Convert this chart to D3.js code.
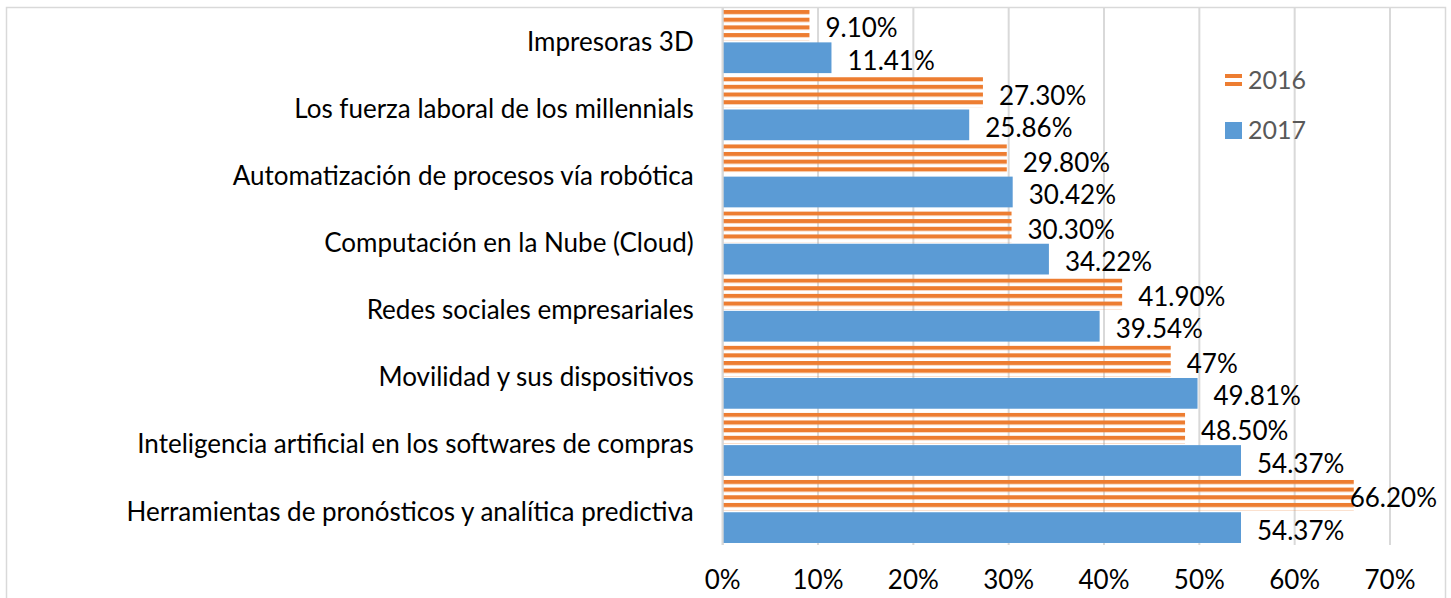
<!DOCTYPE html>
<html>
<head>
<meta charset="utf-8">
<script src="https://cdn.jsdelivr.net/npm/d3@7"></script>
<style>
  body { margin: 0; background: #fff; }
  svg text { font-family: Lato, "Open Sans", sans-serif; }
</style>
</head>
<body>
<svg id="chart" width="1451" height="598"></svg>
<script>
// categories, top to bottom as shown
const categories = [
  "Impresoras 3D",
  "Los fuerza laboral de los millennials",
  "Automatización de procesos vía robótica",
  "Computación en la Nube (Cloud)",
  "Redes sociales empresariales",
  "Movilidad y sus dispositivos",
  "Inteligencia artificial en los softwares de compras",
  "Herramientas de pronósticos y analítica predictiva"
]
const values2016 = [9.10, 27.30, 29.80, 30.30, 41.90, 47, 48.50, 66.20]
const values2017 = [11.41, 25.86, 30.42, 34.22, 39.54, 49.81, 54.37, 54.37]
const labels2016 = ["9.10%", "27.30%", "29.80%", "30.30%", "41.90%", "47%", "48.50%", "66.20%"]
const labels2017 = ["11.41%", "25.86%", "30.42%", "34.22%", "39.54%", "49.81%", "54.37%", "54.37%"]
const xTicks = [0, 10, 20, 30, 40, 50, 60, 70]
const seriesNames = ["2016", "2017"]

const orange = "#ED7D31"
const blue = "#5B9BD5"
const grid = "#d9d9d9"
const fs = 26

let svg = d3.select("#chart")

// stripe pattern fitted to each bar box
let defs = svg.append("defs")
let pat = defs.append("pattern")
  .attr("id", "stripes")
  .attr("patternUnits", "objectBoundingBox")
  .attr("patternContentUnits", "objectBoundingBox")
  .attr("width", 1).attr("height", 0.25)
pat.append("rect").attr("x", 0).attr("y", 0).attr("width", 1).attr("height", 0.135).attr("fill", orange)

// chart border
svg.append("rect")
  .attr("x", 6.5).attr("y", 7.5)
  .attr("width", 1439).attr("height", 620)
  .attr("fill", "none").attr("stroke", grid).attr("stroke-width", 1.5)

let plotLeft = 722.7, plotRight = 1390, plotTop = 8, plotBottom = 545

let xScale = d3.scaleLinear().domain([0, 70]).range([plotLeft, plotRight])
let yScale = d3.scaleBand().domain(categories).range([plotTop, plotBottom]).paddingInner(0.06).paddingOuter(0.03)
let sub = d3.scaleBand().domain(seriesNames).range([0, yScale.bandwidth()]).paddingInner(0.05)

// gridlines
svg.append("g").selectAll("line")
  .data(xTicks)
  .join("line")
  .attr("x1", d => xScale(d)).attr("x2", d => xScale(d))
  .attr("y1", plotTop).attr("y2", plotBottom)
  .attr("stroke", grid).attr("stroke-width", 2)

// x tick labels
svg.append("g").selectAll("text")
  .data(xTicks)
  .join("text")
  .attr("x", d => xScale(d))
  .attr("y", 580)
  .attr("dy", "0.35em")
  .attr("text-anchor", "middle")
  .attr("font-size", fs)
  .attr("fill", "#000")
  .text(d => d + "%")

// category labels
svg.append("g").selectAll("text")
  .data(categories)
  .join("text")
  .attr("x", plotLeft - 29)
  .attr("y", d => yScale(d) + yScale.bandwidth() / 2)
  .attr("dy", "0.35em")
  .attr("text-anchor", "end")
  .attr("font-size", fs)
  .attr("fill", "#000")
  .text(d => d)

let rows = categories.map((c, i) => ({c, v16: values2016[i], v17: values2017[i], l16: labels2016[i], l17: labels2017[i]}))

// 2016 bars (striped)
svg.append("g").selectAll("rect")
  .data(rows)
  .join("rect")
  .attr("x", xScale(0))
  .attr("y", d => yScale(d.c) + sub("2016"))
  .attr("width", d => xScale(d.v16) - xScale(0))
  .attr("height", sub.bandwidth())
  .attr("fill", "url(#stripes)")

// 2017 bars
svg.append("g").selectAll("rect")
  .data(rows)
  .join("rect")
  .attr("x", xScale(0))
  .attr("y", d => yScale(d.c) + sub("2017"))
  .attr("width", d => xScale(d.v17) - xScale(0))
  .attr("height", sub.bandwidth())
  .attr("fill", blue)

// axis line
svg.append("line")
  .attr("x1", plotLeft).attr("x2", plotLeft).attr("y1", plotTop).attr("y2", plotBottom)
  .attr("stroke", grid).attr("stroke-width", 2)

// value labels
function addLabels(key, lab, s) {
  svg.append("g").selectAll("text")
    .data(rows)
    .join("text")
    .attr("x", d => xScale(d[key]) + 16)
    .attr("y", d => yScale(d.c) + sub(s) + sub.bandwidth() / 2 + 3)
    .attr("dy", "0.35em")
    .attr("font-size", fs)
    .attr("fill", "#000")
    .text(d => d[lab])
    .each(function () {
      let w = this.getComputedTextLength()
      let x = +d3.select(this).attr("x")
      if (x + w > 1437) d3.select(this).attr("x", 1437 - w)
    })
}
addLabels("v16", "l16", "2016")
addLabels("v17", "l17", "2017")

// legend
let lg = svg.append("g")
lg.append("rect").attr("x", 1225).attr("y", 74).attr("width", 17).attr("height", 4).attr("fill", orange)
lg.append("rect").attr("x", 1225).attr("y", 82).attr("width", 17).attr("height", 4).attr("fill", orange)
lg.append("rect").attr("x", 1225).attr("y", 122).attr("width", 17).attr("height", 17).attr("fill", blue)
lg.selectAll("text")
  .data(seriesNames)
  .join("text")
  .attr("x", 1248)
  .attr("y", (d, i) => 80 + i * 50)
  .attr("dy", "0.35em")
  .attr("font-size", 25)
  .attr("fill", "#595959")
  .text(d => d)
</script>
</body>
</html>
